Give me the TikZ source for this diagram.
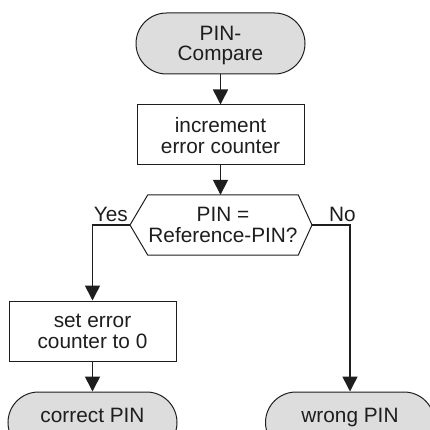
\documentclass[tikz,border=0pt]{standalone}
\usepackage{fontspec}
\setmainfont{Liberation Sans}
\usetikzlibrary{arrows.meta,shapes.misc}

\definecolor{termfill}{RGB}{221,221,221}
\definecolor{inkcol}{RGB}{30,30,30}

\tikzset{
  every node/.style={font=\fontsize{20.8}{21}\selectfont, text=inkcol, align=center},
  terminal/.style={rounded rectangle, draw=inkcol, line width=1pt, fill=termfill,
    minimum width=169pt, minimum height=61pt, inner sep=0pt},
  procbox/.style={rectangle, draw=inkcol, line width=1pt, fill=white,
    minimum width=167pt, minimum height=60pt, inner sep=0pt},
  decbox/.style={rectangle, minimum width=150pt, minimum height=60pt, inner sep=0pt},
  flow/.style={draw=inkcol, line width=1.6pt,
    -{Triangle[length=15pt,width=15pt]}},
  lbl/.style={inner sep=0pt}
}

\begin{document}
\begin{tikzpicture}[x=1pt,y=-1pt]
  \useasboundingbox (0,0) rectangle (430,430);
  \clip (0,0) rectangle (430,430);

  % start terminal
  \node[terminal, text depth=0pt, font=\fontsize{20.8}{20}\selectfont] (start) at (220.5,43.5) {PIN-\\Compare};

  % process box
  \node[procbox, text depth=0pt] (inc) at (220.5,135) {increment\\error counter};

  % decision hexagon
  \node[decbox, text depth=0pt] (dec) at (223,225) {PIN =\\Reference-PIN?};
  \coordinate (decL) at (130,225);
  \coordinate (decR) at (312,225);
  \draw[draw=inkcol, line width=1pt] (decL) -- (dec.north west) -- (dec.north east)
    -- (decR) -- (dec.south east) -- (dec.south west) -- cycle;

  % yes branch
  \node[procbox, text depth=0pt] (reset) at (92.5,331) {set error\\counter to 0};
  \node[terminal, text height=15pt, text depth=0pt] (ok) at (92.5,422.5) {\raisebox{8pt}{correct PIN}};

  % no branch
  \node[terminal, text height=15pt, text depth=0pt] (bad) at (350,422.5) {\raisebox{8pt}{wrong PIN}};

  % branch labels
  \node[lbl, anchor=base east] (yes) at (128,221) {Yes};
  \node[lbl, anchor=base west] (no) at (329,221) {No};

  % connectors
  \draw[flow] (start.south) -- (inc.north);
  \draw[flow] (inc.south) -- (inc.south |- dec.north);
  \draw[flow] (decL) -| (reset.north);
  \draw[flow] (reset.south) -- (ok.north);
  \draw[flow] (decR) -| (bad.north);
\end{tikzpicture}
\end{document}
